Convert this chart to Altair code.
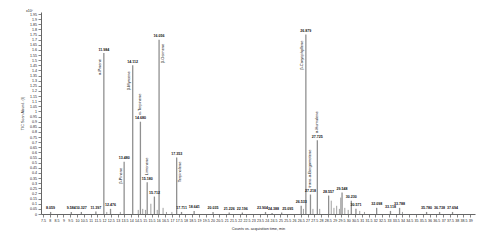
import altair as alt
import pandas as pd

# Labelled peaks: retention time (min) and height (x10^7 counts)
peak_times = [8.059, 9.584, 10.327, 11.397, 11.984, 12.476, 13.480, 14.112, 14.680,
              15.180, 15.712, 16.056, 17.353, 17.711, 18.641, 20.035, 21.226, 22.196,
              23.904, 24.388, 25.095, 26.533, 26.879, 27.218, 27.725, 28.557, 29.548,
              30.230, 30.571, 32.098, 33.118, 33.788, 35.780, 36.738, 37.694]
peak_heights = [0.02, 0.02, 0.02, 0.025, 1.57, 0.05, 0.51, 1.45, 0.90,
                0.31, 0.17, 1.70, 0.55, 0.02, 0.03, 0.02, 0.015, 0.015,
                0.02, 0.01, 0.015, 0.08, 1.75, 0.19, 0.72, 0.18, 0.21,
                0.13, 0.05, 0.06, 0.03, 0.06, 0.02, 0.02, 0.02]

# Peaks whose number labels are nudged apart (crowded run)
nudge_left = [23.904]
nudge_right = [24.388]
nudge_far_right = [25.095]

# Unlabelled minor peaks
minor_times = [12.2, 13.2, 14.52, 14.85, 15.05, 15.45, 15.92, 16.35, 16.6, 17.0,
               26.7, 27.4, 27.9, 28.75, 28.95, 29.15, 29.35, 29.45, 29.75, 30.0,
               30.85, 31.2, 34.0]
minor_heights = [0.02, 0.02, 0.04, 0.05, 0.04, 0.10, 0.04, 0.06, 0.02, 0.02,
                 0.05, 0.05, 0.05, 0.13, 0.06, 0.08, 0.05, 0.16, 0.06, 0.04,
                 0.03, 0.02, 0.02]

# Compound names, by the peak they belong to
left_names = ["α-Pinene", "β-Pinene", "β-Myrcene", "β-Caryophyllene"]
left_times = [11.984, 13.480, 14.112, 26.879]
right_names = ["β-Ocimene", "Terpinolene"]
right_times = [16.056, 17.353]
above_names = ["α-Terpinene", "Limonene", "trans-α-Bergamotene", "α-Humulene"]
above_times = [14.680, 15.180, 27.218, 27.725]

x_ticks = [7.5 + 0.5 * i for i in range(64)]
y_ticks = [round(0.05 * i, 2) for i in range(40)]

FONT = "Liberation Sans"


def group_of(t):
    if t in nudge_left:
        return "L"
    if t in nudge_right:
        return "R"
    if t in nudge_far_right:
        return "RR"
    return "C"


peaks = pd.DataFrame({"t": peak_times, "h": peak_heights,
                      "lab": [f"{t:.3f}" for t in peak_times]})
peaks["grp"] = [group_of(t) for t in peak_times]
minor = pd.DataFrame({"t": minor_times, "h": minor_heights})
hmap = dict(zip(peak_times, peak_heights))
left = pd.DataFrame({"t": left_times, "h": [hmap[t] for t in left_times], "name": left_names})
right = pd.DataFrame({"t": right_times, "h": [hmap[t] for t in right_times], "name": right_names})
above = pd.DataFrame({"t": above_times, "h": [hmap[t] for t in above_times], "name": above_names})

xs = alt.Scale(domain=[7.35, 39.35], nice=False, zero=False)
ys = alt.Scale(domain=[0, 1.97], nice=False)

xax = alt.Axis(values=x_ticks, format=".1~f", title="Counts vs. acquisition time, min",
               labelFontSize=3.6, titleFontSize=3.8, tickSize=3, labelPadding=1.5,
               titlePadding=4, grid=False, labelOverlap=False, labelBound=False,
               titleFontWeight="normal")
yax = alt.Axis(values=y_ticks, format=".2~f", title="TIC Scan Abund. (I)",
               labelFontSize=3.6, titleFontSize=3.8, tickSize=3, labelPadding=1.5,
               titlePadding=5, grid=False, labelOverlap=False, labelBound=False,
               titleFontWeight="normal")

X = alt.X("t:Q", scale=xs, axis=xax)
Y = alt.Y("h:Q", scale=ys, axis=yax)

minor_layer = alt.Chart(minor).mark_rule(color="#a0a0a0", strokeWidth=1).encode(
    x=X, y=Y, y2=alt.datum(0))

peak_layer = alt.Chart(peaks).mark_rule(color="#909090", strokeWidth=1.3).encode(
    x=X, y=Y, y2=alt.datum(0))


def num_text(grp, dx):
    return alt.Chart(peaks).transform_filter(alt.datum.grp == grp).mark_text(
        font=FONT, fontSize=3.6, fontWeight="bold", baseline="bottom", align="center",
        dy=-1.5, dx=dx, color="#111").encode(x=X, y=Y, text="lab:N")


num_c = num_text("C", 0)
num_l = num_text("L", -3)
num_r = num_text("R", 1.5)
num_rr = num_text("RR", 6)

left_layer = alt.Chart(left).mark_text(font=FONT, fontSize=4, angle=270, align="right",
                                       baseline="middle", dx=-6, dy=-3.5,
                                       color="#111").encode(
    x=X, y=Y, text="name:N")

right_layer = alt.Chart(right).mark_text(font=FONT, fontSize=4, angle=270, align="right",
                                         baseline="middle", dx=-4, dy=3.5,
                                         color="#111").encode(
    x=X, y=Y, text="name:N")

above_layer = alt.Chart(above).mark_text(font=FONT, fontSize=4, angle=270, align="left",
                                         baseline="middle", dx=7, dy=0,
                                         color="#111").encode(
    x=X, y=Y, text="name:N")

exp_layer = alt.Chart(pd.DataFrame({"s": ["x10⁷"]})).mark_text(
    font=FONT, fontSize=3.6, align="left", baseline="bottom", color="#111").encode(
    x=alt.value(-15), y=alt.value(1), text="s:N")

chart = alt.layer(minor_layer, peak_layer, num_c, num_l, num_r, num_rr, left_layer,
                  right_layer, above_layer, exp_layer).properties(
    width=434, height=202,
    autosize=alt.AutoSizeParams(type="none"),
    padding={"left": 33, "top": 4, "right": 10, "bottom": 25},
    background="white",
).configure_view(stroke=None).configure_axis(
    domainColor="#666", tickColor="#666", labelColor="#222", titleColor="#222",
    labelFont=FONT, titleFont=FONT, domainWidth=1, tickWidth=0.8
)

chart.save("out.html", embed_options={"renderer": "svg", "actions": False})
